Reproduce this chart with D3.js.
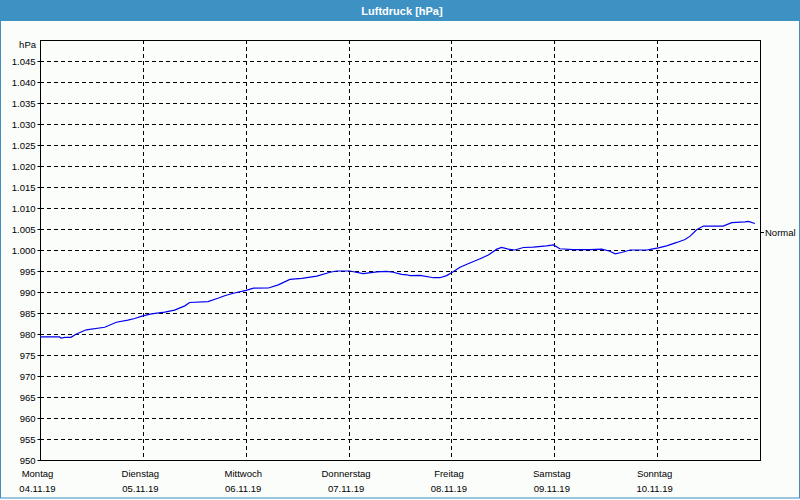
<!DOCTYPE html>
<html>
<head>
<meta charset="utf-8">
<script src="https://cdn.jsdelivr.net/npm/d3@7"></script>
<style>
  html, body { margin: 0; padding: 0; background: #fbfdfb; }
  svg { display: block; }
  text { font-family: "Liberation Sans", Arial, sans-serif; }
</style>
</head>
<body>
<svg id="chart" width="800" height="500"></svg>
<script>
// ---- data ----
const title = "Luftdruck [hPa]";
const unitLabel = "hPa";
const dayNames = ["Montag", "Dienstag", "Mittwoch", "Donnerstag", "Freitag", "Samstag", "Sonntag"];
const dayDates = ["04.11.19", "05.11.19", "06.11.19", "07.11.19", "08.11.19", "09.11.19", "10.11.19"];
const yTicks = [950, 955, 960, 965, 970, 975, 980, 985, 990, 995, 1000, 1005, 1010, 1015, 1020, 1025, 1030, 1035, 1040, 1045];
const normalLabel = "Normal";
const normalValue = 1004.4;
// hours since Monday 00:00
const hours = [0, 4.6, 4.9, 5.8, 7.2, 8.5, 10.8, 15.1, 17.8, 20.5, 22.1, 24.0, 26.0, 29.1, 31.4, 33.8, 34.9, 39.2, 41.5, 43.1,
  45.1, 48.1, 49.8, 53.3, 55.6, 58.3, 61.1, 64.6, 67.7, 69.2, 72.3, 75.4, 78.6, 80.9, 82.4, 84.4, 85.6, 86.3, 88.7, 91.8,
  93.3, 94.9, 96.4, 98.0, 100.3, 102.7, 104.6, 106.6, 107.7, 109.3, 110.8, 112.8, 115.1, 118.2, 119.8, 121.3, 124.4, 128.3, 131.1, 133.0,
  134.2, 135.7, 137.7, 141.6, 142.7, 144.3, 146.2, 148.6, 150.5, 151.7, 153.2, 154.8, 159.4, 161.4, 164.5, 165.3, 166.8];
const pressure = [979.3, 979.3, 979.0, 979.2, 979.2, 980.0, 981.0, 981.6, 982.8, 983.3, 983.7, 984.3, 984.8, 985.2, 985.7, 986.7, 987.5, 987.7, 988.5, 989.1,
  989.7, 990.4, 990.9, 990.95, 991.7, 993.0, 993.25, 993.8, 994.7, 995.0, 995.0, 994.4, 994.8, 994.9, 994.7, 994.2, 994.1, 993.9, 993.95, 993.4,
  993.4, 993.9, 994.8, 995.9, 996.9, 997.9, 998.8, 1000.2, 1000.6, 1000.2, 1000.0, 1000.6, 1000.7, 1001.0, 1001.2, 1000.3, 1000.1, 1000.1, 1000.2, 999.7,
  999.1, 999.4, 1000.0, 1000.0, 1000.2, 1000.5, 1001.0, 1001.8, 1002.5, 1003.3, 1004.8, 1005.7, 1005.7, 1006.5, 1006.7, 1006.8, 1006.3];

// ---- layout ----
const W = 800, H = 500;
const m = { left: 40, right: 760, top: 40, bottom: 460 };
const svg = d3.select("#chart");

const de = d3.formatLocale({ decimal: ",", thousands: ".", grouping: [3], currency: ["", " €"] });
const fmt = de.format(",d");

const x = d3.scaleLinear().domain([0, 168]).range([m.left, m.right]);
const y = d3.scaleLinear().domain([950, 1050]).range([m.bottom, m.top]);

// background + outer frame
svg.append("rect").attr("x", 0.5).attr("y", 0.5).attr("width", W - 1).attr("height", H - 2.5)
  .attr("fill", "#fbfdfb").attr("stroke", "#3d8fc4").attr("stroke-width", 1);
// title bar
svg.append("rect").attr("x", 0).attr("y", 0).attr("width", W).attr("height", 21).attr("fill", "#3d92c3");
svg.append("text").attr("x", 402).attr("y", 14.5).attr("text-anchor", "middle")
  .attr("fill", "#ffffff").attr("font-size", "11px").attr("font-weight", "bold").text(title);

// horizontal grid
svg.append("g").selectAll("line").data(yTicks.filter(v => v > 950)).join("line")
  .attr("x1", m.left).attr("x2", m.right)
  .attr("y1", d => Math.round(y(d)) + 0.5).attr("y2", d => Math.round(y(d)) + 0.5)
  .attr("stroke", "#000").attr("stroke-dasharray", "4,3").attr("shape-rendering", "crispEdges");

// vertical grid (day boundaries)
const dayHours = dayNames.map((d, i) => i * 24);
svg.append("g").selectAll("line").data(dayHours.filter(h => h > 0)).join("line")
  .attr("x1", d => Math.round(x(d)) + 0.5).attr("x2", d => Math.round(x(d)) + 0.5)
  .attr("y1", m.top).attr("y2", m.bottom)
  .attr("stroke", "#000").attr("stroke-dasharray", "4,3").attr("shape-rendering", "crispEdges");

// y axis
const yAxis = svg.append("g").attr("transform", `translate(${m.left + 0.5},0)`)
  .call(d3.axisLeft(y).tickValues(yTicks).tickSize(3).tickPadding(2).tickFormat(fmt));
yAxis.select(".domain").remove();
yAxis.selectAll("text").attr("font-size", "9.5px").attr("fill", "#000")
  .attr("font-family", "Liberation Sans, Arial, sans-serif");
yAxis.selectAll("line").attr("stroke", "#000");
svg.append("text").attr("x", 36).attr("y", 48).attr("text-anchor", "end")
  .attr("font-size", "9.5px").attr("fill", "#000").text(unitLabel);

// plot frame
svg.append("rect").attr("x", m.left + 0.5).attr("y", m.top + 0.5)
  .attr("width", m.right - m.left).attr("height", m.bottom - m.top)
  .attr("fill", "none").attr("stroke", "#000").attr("stroke-width", 1).attr("shape-rendering", "crispEdges");

// right "Normal" tick
const ny = Math.round(y(normalValue)) + 0.5;
svg.append("line").attr("x1", m.right).attr("x2", m.right + 4).attr("y1", ny).attr("y2", ny).attr("stroke", "#000");
svg.append("text").attr("x", m.right + 5).attr("y", ny + 3.5).attr("font-size", "9.5px").attr("fill", "#000").text(normalLabel);

// x labels
const xl = svg.append("g");
xl.selectAll("text.day").data(dayNames).join("text").attr("class", "day")
  .attr("x", (d, i) => x(dayHours[i]) - 2.5).attr("y", 477).attr("text-anchor", "middle")
  .attr("font-size", "9.5px").attr("fill", "#000").text(d => d);
xl.selectAll("text.date").data(dayDates).join("text").attr("class", "date")
  .attr("x", (d, i) => x(dayHours[i]) - 2.5).attr("y", 492).attr("text-anchor", "middle")
  .attr("font-size", "9.5px").attr("fill", "#000").text(d => d);

// line
const pts = hours.map((h, i) => [h, pressure[i]]);
svg.append("path").datum(pts)
  .attr("d", d3.line().x(d => x(d[0])).y(d => y(d[1])))
  .attr("fill", "none").attr("stroke", "#0000ee").attr("stroke-width", 1.2);
</script>
</body>
</html>
